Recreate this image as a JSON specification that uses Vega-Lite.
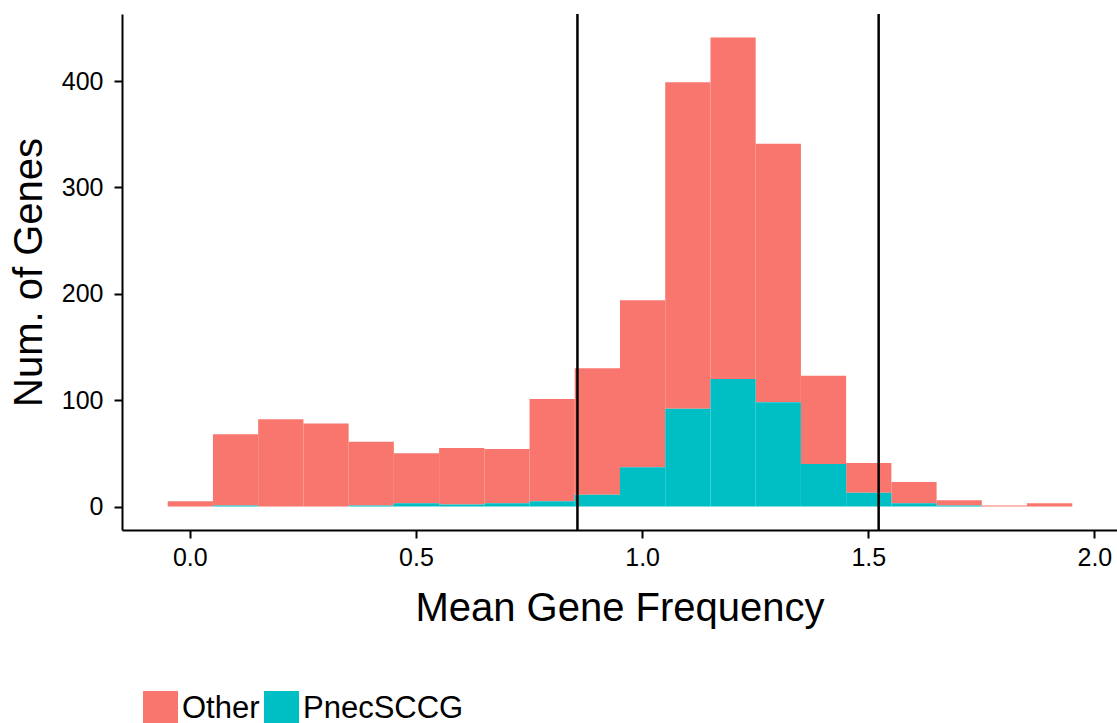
{
  "$schema": "https://vega.github.io/schema/vega-lite/v6.json",
  "width": 995,
  "height": 516,
  "autosize": {"type": "none"},
  "padding": {"left": 122, "top": 14, "right": 0, "bottom": 193},
  "background": "white",
  "config": {
    "view": {"stroke": null},
    "font": "Liberation Sans",
    "axis": {
      "grid": false,
      "domainColor": "#000000",
      "domainWidth": 2,
      "tickColor": "#000000",
      "tickWidth": 2,
      "tickSize": 8,
      "labelColor": "#000000",
      "labelFont": "Liberation Sans",
      "labelFontSize": 25,
      "titleFont": "Liberation Sans",
      "titleFontSize": 40,
      "titleFontWeight": "normal",
      "titleColor": "#000000"
    },
    "legend": {
      "labelFont": "Liberation Sans",
      "labelFontSize": 31,
      "labelColor": "#000000",
      "labelLimit": 0
    }
  },
  "datasets": {
    "bars": [
      {"lo": -0.05, "hi": 0.05, "group": "Other", "n": 5},
      {"lo": 0.05, "hi": 0.15, "group": "Other", "n": 67},
      {"lo": 0.15, "hi": 0.25, "group": "Other", "n": 82},
      {"lo": 0.25, "hi": 0.35, "group": "Other", "n": 78},
      {"lo": 0.35, "hi": 0.45, "group": "Other", "n": 60},
      {"lo": 0.45, "hi": 0.55, "group": "Other", "n": 47},
      {"lo": 0.55, "hi": 0.65, "group": "Other", "n": 53},
      {"lo": 0.65, "hi": 0.75, "group": "Other", "n": 51},
      {"lo": 0.75, "hi": 0.85, "group": "Other", "n": 96},
      {"lo": 0.85, "hi": 0.95, "group": "Other", "n": 119},
      {"lo": 0.95, "hi": 1.05, "group": "Other", "n": 157},
      {"lo": 1.05, "hi": 1.15, "group": "Other", "n": 307},
      {"lo": 1.15, "hi": 1.25, "group": "Other", "n": 321},
      {"lo": 1.25, "hi": 1.35, "group": "Other", "n": 243},
      {"lo": 1.35, "hi": 1.45, "group": "Other", "n": 83},
      {"lo": 1.45, "hi": 1.55, "group": "Other", "n": 28},
      {"lo": 1.55, "hi": 1.65, "group": "Other", "n": 20},
      {"lo": 1.65, "hi": 1.75, "group": "Other", "n": 5},
      {"lo": 1.75, "hi": 1.85, "group": "Other", "n": 1},
      {"lo": 1.85, "hi": 1.95, "group": "Other", "n": 3},
      {"lo": -0.05, "hi": 0.05, "group": "PnecSCCG", "n": 0},
      {"lo": 0.05, "hi": 0.15, "group": "PnecSCCG", "n": 1},
      {"lo": 0.15, "hi": 0.25, "group": "PnecSCCG", "n": 0},
      {"lo": 0.25, "hi": 0.35, "group": "PnecSCCG", "n": 0},
      {"lo": 0.35, "hi": 0.45, "group": "PnecSCCG", "n": 1},
      {"lo": 0.45, "hi": 0.55, "group": "PnecSCCG", "n": 3},
      {"lo": 0.55, "hi": 0.65, "group": "PnecSCCG", "n": 2},
      {"lo": 0.65, "hi": 0.75, "group": "PnecSCCG", "n": 3},
      {"lo": 0.75, "hi": 0.85, "group": "PnecSCCG", "n": 5},
      {"lo": 0.85, "hi": 0.95, "group": "PnecSCCG", "n": 11},
      {"lo": 0.95, "hi": 1.05, "group": "PnecSCCG", "n": 37},
      {"lo": 1.05, "hi": 1.15, "group": "PnecSCCG", "n": 92},
      {"lo": 1.15, "hi": 1.25, "group": "PnecSCCG", "n": 120},
      {"lo": 1.25, "hi": 1.35, "group": "PnecSCCG", "n": 98},
      {"lo": 1.35, "hi": 1.45, "group": "PnecSCCG", "n": 40},
      {"lo": 1.45, "hi": 1.55, "group": "PnecSCCG", "n": 13},
      {"lo": 1.55, "hi": 1.65, "group": "PnecSCCG", "n": 3},
      {"lo": 1.65, "hi": 1.75, "group": "PnecSCCG", "n": 1},
      {"lo": 1.75, "hi": 1.85, "group": "PnecSCCG", "n": 0},
      {"lo": 1.85, "hi": 1.95, "group": "PnecSCCG", "n": 0}
    ],
    "lines": [
      {"cut": 0.857},
      {"cut": 1.523}
    ]
  },
  "layer": [
    {
      "data": {"name": "bars"},
      "mark": {"type": "bar", "orient": "vertical", "binSpacing": 0, "stroke": null, "strokeWidth": 0},
      "encoding": {
        "x": {
          "field": "lo",
          "type": "quantitative",
          "bin": "binned",
          "scale": {"domain": [-0.15, 2.05], "nice": false, "zero": false},
          "axis": {
            "title": "Mean Gene Frequency",
            "values": [0, 0.5, 1, 1.5, 2],
            "format": ".1f",
            "labelPadding": 7,
            "titlePadding": 18
          }
        },
        "x2": {"field": "hi"},
        "y": {
          "field": "n",
          "type": "quantitative",
          "stack": "zero",
          "scale": {"domain": [-22.05, 463.05], "nice": false, "zero": false},
          "axis": {
            "title": "Num. of Genes",
            "values": [0, 100, 200, 300, 400],
            "labelPadding": 11,
            "titlePadding": 12
          }
        },
        "color": {
          "field": "group",
          "type": "nominal",
          "scale": {"domain": ["Other", "PnecSCCG"], "range": ["#F8766D", "#00BFC4"]},
          "legend": {
            "title": null,
            "orient": "none",
            "direction": "horizontal",
            "legendX": 21,
            "legendY": 677,
            "padding": 0,
            "symbolType": "square",
            "symbolSize": 1225,
            "symbolStrokeWidth": 0,
            "labelOffset": 4,
            "columnPadding": 4,
            "labelLimit": 0
          }
        },
        "order": {"field": "group", "sort": "descending"}
      }
    },
    {
      "data": {"name": "lines"},
      "mark": {"type": "rule", "color": "#000000", "strokeWidth": 2.5},
      "encoding": {
        "x": {"field": "cut", "type": "quantitative"}
      }
    }
  ]
}
